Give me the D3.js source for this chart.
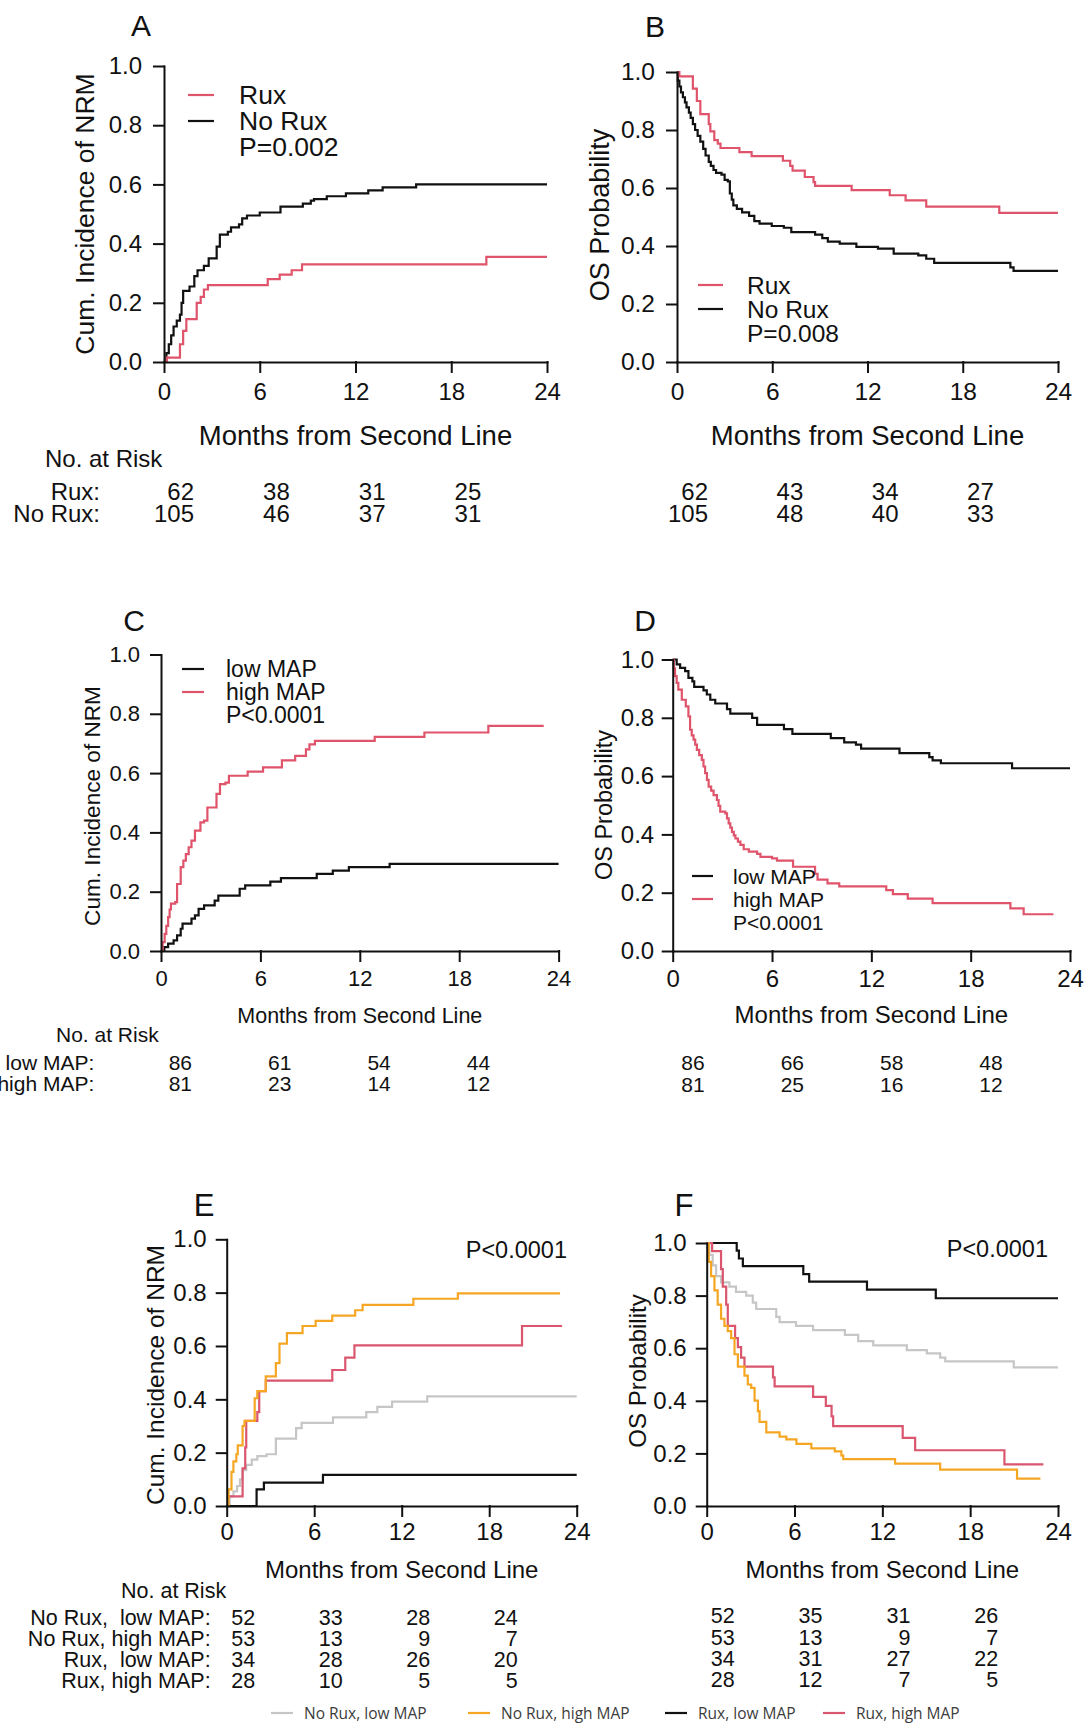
<!DOCTYPE html>
<html><head><meta charset="utf-8">
<script src="https://cdn.jsdelivr.net/npm/d3@7"></script>
<style>
html,body{margin:0;padding:0;background:#fff;}
svg text{font-family:"Liberation Sans",Arial,Helvetica,sans-serif;fill:#111;}
.pre{white-space:pre;}
</style></head><body>
<svg id="c" width="1087" height="1726"></svg>
<script>
// ---------------- DATA ----------------
const monthTicks = [0, 6, 12, 18, 24];
const probTicks = [0, 0.2, 0.4, 0.6, 0.8, 1.0];
const riskTimes = [0, 6, 12, 18];

// Panel A: cumulative incidence of NRM (step points: [month, value after step])
const A_rux = [[0,0],[0.18,0.015],[1.0,0.06],[1.2,0.105],[1.4,0.145],[2.05,0.2],[2.3,0.22],[2.5,0.245],[2.75,0.26],[6.5,0.28],[7.25,0.295],[8.0,0.31],[8.65,0.33],[20.2,0.355],[24,0.355]];
const A_norux = [[0,0],[0.15,0.03],[0.3,0.06],[0.45,0.09],[0.6,0.12],[0.8,0.14],[1.0,0.16],[1.1,0.2],[1.2,0.24],[1.6,0.255],[1.9,0.29],[2.1,0.31],[2.5,0.325],[2.8,0.35],[3.3,0.39],[3.5,0.43],[4.0,0.44],[4.2,0.455],[4.7,0.465],[4.9,0.485],[5.2,0.495],[6.0,0.505],[7.3,0.525],[8.7,0.535],[9.2,0.545],[9.4,0.55],[10.2,0.56],[11.4,0.57],[12.8,0.58],[13.7,0.59],[15.8,0.6],[24,0.6]];
const A_riskRux = [62, 38, 31, 25];
const A_riskNoRux = [105, 46, 37, 31];

// Panel B: OS
const B_rux = [[0,1],[0.15,0.985],[1.0,0.943],[1.25,0.9],[1.47,0.855],[2.0,0.82],[2.1,0.795],[2.35,0.765],[2.57,0.753],[2.74,0.738],[3.93,0.724],[4.7,0.71],[6.67,0.694],[7.13,0.676],[7.28,0.66],[8.05,0.638],[8.6,0.62],[8.7,0.607],[11.0,0.593],[13.4,0.575],[14.4,0.557],[15.7,0.536],[20.3,0.514],[24,0.514]];
const B_norux = [[0,1],[0.05,0.97],[0.15,0.95],[0.25,0.93],[0.37,0.913],[0.5,0.895],[0.6,0.878],[0.75,0.86],[0.86,0.842],[1.0,0.82],[1.14,0.8],[1.3,0.78],[1.47,0.76],[1.65,0.735],[1.8,0.712],[2.0,0.69],[2.13,0.676],[2.3,0.662],[2.46,0.652],[2.8,0.646],[3.0,0.628],[3.2,0.623],[3.33,0.581],[3.45,0.56],[3.55,0.54],[3.77,0.528],[4.1,0.516],[4.54,0.504],[4.87,0.486],[5.2,0.477],[5.97,0.469],[6.73,0.463],[7.2,0.448],[8.7,0.439],[9.15,0.427],[9.5,0.415],[10.25,0.408],[11.3,0.397],[12.66,0.391],[13.65,0.374],[15.2,0.368],[15.7,0.356],[16.2,0.342],[21.0,0.326],[21.2,0.314],[24,0.314]];
const B_riskRux = [62, 43, 34, 27];
const B_riskNoRux = [105, 48, 40, 33];

// Panel C: NRM by MAP
const C_low = [[0,0],[0.2,0.013],[0.43,0.025],[0.76,0.036],[0.97,0.053],[1.19,0.075],[1.3,0.092],[1.84,0.109],[2.05,0.12],[2.27,0.142],[2.6,0.154],[3.24,0.17],[3.46,0.187],[4.75,0.21],[5.08,0.221],[6.6,0.234],[7.24,0.246],[9.4,0.26],[10.37,0.271],[11.34,0.283],[13.8,0.294],[24,0.294]];
const C_high = [[0,0],[0.1,0.03],[0.22,0.058],[0.32,0.085],[0.43,0.114],[0.52,0.14],[0.6,0.16],[0.86,0.165],[0.97,0.226],[1.19,0.283],[1.35,0.305],[1.5,0.327],[1.67,0.35],[1.84,0.372],[2.05,0.406],[2.38,0.434],[2.6,0.44],[2.8,0.484],[3.35,0.53],[3.56,0.563],[3.89,0.568],[4.1,0.591],[5.23,0.605],[6.16,0.619],[7.3,0.643],[8.1,0.658],[8.75,0.68],[8.96,0.697],[9.29,0.709],[12.9,0.722],[15.9,0.737],[19.76,0.759],[23.1,0.759]];
const C_riskLow = [86, 61, 54, 44];
const C_riskHigh = [81, 23, 14, 12];

// Panel D: OS by MAP
const D_low = [[0,1],[0.24,0.983],[0.45,0.971],[0.75,0.96],[0.95,0.937],[1.19,0.925],[1.3,0.906],[1.86,0.894],[2.06,0.88],[2.27,0.862],[2.57,0.849],[3.28,0.83],[3.48,0.814],[4.8,0.8],[5.1,0.776],[6.72,0.761],[7.23,0.745],[9.55,0.73],[10.36,0.716],[11.07,0.708],[11.38,0.694],[13.7,0.679],[15.5,0.665],[15.7,0.654],[16.2,0.644],[20.5,0.627],[24,0.627]];
const D_high = [[0,1],[0.07,0.97],[0.14,0.943],[0.24,0.92],[0.34,0.897],[0.55,0.862],[0.79,0.839],[0.95,0.805],[1.05,0.759],[1.15,0.74],[1.26,0.725],[1.36,0.708],[1.46,0.69],[1.6,0.672],[1.76,0.656],[1.86,0.633],[1.96,0.61],[2.07,0.587],[2.17,0.564],[2.32,0.55],[2.47,0.535],[2.67,0.518],[2.77,0.498],[2.87,0.478],[3.18,0.472],[3.28,0.455],[3.38,0.438],[3.48,0.423],[3.58,0.409],[3.69,0.397],[3.79,0.386],[3.94,0.375],[4.09,0.364],[4.29,0.349],[4.6,0.341],[5.1,0.333],[5.3,0.323],[6.0,0.318],[6.3,0.31],[7.27,0.289],[8.6,0.265],[8.75,0.245],[9.35,0.232],[10.06,0.222],[12.9,0.209],[13.3,0.195],[14.2,0.18],[15.7,0.164],[20.4,0.146],[21.2,0.126],[23.0,0.126]];
const D_riskLow = [86, 66, 58, 48];
const D_riskHigh = [81, 25, 16, 12];

// Panel E: NRM, four groups
const E_noruxLow = [[0,0],[0.2,0.036],[0.46,0.055],[0.71,0.075],[0.91,0.1],[1.09,0.134],[1.34,0.154],[1.72,0.174],[2.1,0.187],[2.73,0.194],[3.37,0.253],[4.76,0.292],[5.14,0.312],[7.29,0.332],[9.57,0.352],[10.33,0.372],[11.34,0.391],[13.75,0.411],[24,0.411]];
const E_noruxHigh = [[0,0],[0.13,0.062],[0.33,0.128],[0.46,0.167],[0.66,0.194],[0.76,0.227],[1.09,0.3],[1.22,0.319],[1.92,0.404],[2.1,0.431],[2.68,0.486],[3.37,0.536],[3.62,0.609],[4.13,0.648],[5.2,0.675],[6.1,0.694],[7.24,0.714],[8.81,0.734],[9.32,0.754],[12.8,0.777],[15.85,0.797],[22.86,0.797]];
const E_ruxLow = [[0,0],[2.05,0.062],[2.55,0.088],[6.6,0.117],[24,0.117]];
const E_ruxHigh = [[0,0],[0.1,0.036],[1.09,0.141],[1.27,0.22],[1.34,0.319],[2.1,0.352],[2.23,0.431],[2.68,0.47],[7.24,0.51],[8.13,0.556],[8.76,0.602],[20.25,0.675],[23,0.675]];
const E_risk = [[52,33,28,24],[53,13,9,7],[34,28,26,20],[28,10,5,5]];

// Panel F: OS, four groups
const F_noruxLow = [[0,1],[0.18,0.955],[0.41,0.915],[0.64,0.874],[0.98,0.85],[1.55,0.834],[2.0,0.814],[2.7,0.8],[3.15,0.773],[3.38,0.749],[4.75,0.719],[4.98,0.699],[6.1,0.685],[7.27,0.669],[9.44,0.651],[10.35,0.627],[11.38,0.611],[13.67,0.593],[15.04,0.58],[15.95,0.564],[16.3,0.55],[20.98,0.527],[24,0.527]];
const F_noruxHigh = [[0,1],[0.14,0.928],[0.3,0.874],[0.53,0.82],[0.75,0.766],[0.98,0.712],[1.21,0.685],[1.44,0.665],[1.67,0.638],[1.9,0.577],[2.13,0.53],[2.58,0.496],[2.81,0.462],[3.04,0.449],[3.27,0.401],[3.5,0.361],[3.61,0.32],[4.07,0.28],[4.98,0.264],[5.44,0.253],[6.13,0.236],[7.15,0.219],[8.75,0.208],[9.2,0.192],[9.33,0.178],[12.87,0.161],[15.95,0.138],[21.2,0.104],[22.8,0.104]];
const F_ruxLow = [[0,1],[2.05,0.971],[2.2,0.941],[2.47,0.912],[6.6,0.882],[7.0,0.853],[10.95,0.823],[15.65,0.79],[24,0.79]];
const F_ruxHigh = [[0,1],[0.37,0.969],[0.98,0.901],[1.1,0.834],[1.33,0.766],[1.44,0.685],[1.94,0.638],[2.13,0.604],[2.35,0.564],[2.58,0.53],[4.53,0.489],[4.64,0.455],[7.27,0.415],[8.14,0.381],[8.53,0.341],[8.64,0.304],[13.39,0.259],[14.24,0.212],[20.34,0.158],[23.0,0.158]];
const F_risk = [[52,35,31,26],[53,13,9,7],[34,31,27,22],[28,12,7,5]];

const twoGroupAB = ["Rux", "No Rux"];
const twoGroupCD = ["low MAP", "high MAP"];
const fourGroups = ["No Rux,  low MAP", "No Rux, high MAP", "Rux,  low MAP", "Rux, high MAP"];
const fourLegend = ["No Rux, low MAP", "No Rux, high MAP", "Rux, low MAP", "Rux, high MAP"];

// ---------------- STYLE ----------------
const RED = "#DF536B", BLACK = "#111111", ORANGE = "#F5A623", GREY = "#C6C6C6", PINK = "#D9566E";

const svg = d3.select("#c");
svg.append("rect").attr("width",1087).attr("height",1726).attr("fill","#fff");

function panel(c) {
  const g = svg.append("g");
  const x = d3.scaleLinear().domain([0,24]).range([c.x0, c.x1]);
  const y = d3.scaleLinear().domain([0,1]).range([c.yb, c.yt]);
  const line = d3.line().x(d => x(d[0])).y(d => y(d[1])).curve(d3.curveStepAfter);

  // curves
  c.series.forEach(s => {
    g.append("path").attr("d", line(s.data)).attr("fill","none")
      .attr("stroke", s.color).attr("stroke-width", 2.2).attr("stroke-linejoin","miter");
  });

  // axes
  const ax = g.append("g").attr("transform", `translate(0,${c.yb})`)
    .call(d3.axisBottom(x).tickValues(monthTicks).tickSize(10).tickSizeOuter(0).tickPadding(c.xpad).tickFormat(d3.format("d")));
  const ay = g.append("g").attr("transform", `translate(${c.x0},0)`)
    .call(d3.axisLeft(y).tickValues(probTicks).tickSize(10).tickSizeOuter(0).tickPadding(c.ypad).tickFormat(d3.format(".1f")));
  [ax, ay].forEach(a => {
    a.attr("font-family", null).attr("font-size", null);
    a.selectAll("path,line").attr("stroke", BLACK).attr("stroke-width", 2).attr("stroke-linecap","square");
    a.selectAll("text").attr("fill", BLACK).style("font-size", c.tickFs + "px");
  });

  // panel letter
  g.append("text").attr("x", c.tx).attr("y", c.ty).attr("text-anchor","middle")
    .style("font-size", c.titleFs + "px").text(c.title);
  // y title
  g.append("text").attr("transform", `translate(${c.ytx},${c.yty}) rotate(-90)`)
    .attr("text-anchor","middle").attr("dominant-baseline","central")
    .style("font-size", c.ytFs + "px").text(c.ytitle);
  // x title
  g.append("text").attr("x", x(12)).attr("y", c.xly).attr("text-anchor","middle")
    .style("font-size", c.xlFs + "px").text("Months from Second Line");

  // legend
  if (c.legend) {
    const L = c.legend;
    L.items.forEach((it, i) => {
      const by = L.y0 + i * L.dy;
      g.append("line").attr("x1", L.lx0).attr("x2", L.lx1)
        .attr("y1", by - L.lineOff).attr("y2", by - L.lineOff)
        .attr("stroke", it.color).attr("stroke-width", 2.2);
      g.append("text").attr("x", L.tx).attr("y", by).style("font-size", L.fs + "px").text(it.label);
    });
    g.append("text").attr("x", L.tx).attr("y", L.y0 + L.items.length * L.dy)
      .style("font-size", L.fs + "px").text(c.pval);
  }
  if (c.pTop) {
    g.append("text").attr("x", c.pTop.x).attr("y", c.pTop.y).attr("text-anchor","end")
      .style("font-size", c.pTop.fs + "px").text(c.pval);
  }

  // numbers at risk
  const R = c.risk;
  if (R.header) {
    g.append("text").attr("x", R.header.x).attr("y", R.header.y)
      .style("font-size", R.header.fs + "px").text("No. at Risk");
  }
  R.rows.forEach((vals, i) => {
    const by = R.y0 + i * R.dy;
    if (R.labels) {
      g.append("text").attr("class","pre").attr("x", R.lx).attr("y", by).attr("text-anchor","end")
        .style("font-size", R.fs + "px").text(R.labels[i] + ":");
    }
    g.selectAll(null).data(vals).enter().append("text")
      .attr("x", (v, j) => x(riskTimes[j]) + R.off).attr("y", by).attr("text-anchor","end")
      .style("font-size", R.fs + "px").text(v => v);
  });
}

// Panel A
panel({title:"A", tx:141, ty:36, titleFs:30, x0:164, x1:547, yt:66, yb:362, xpad:11, ypad:12, tickFs:24,
  ytitle:"Cum. Incidence of NRM", ytx:85, yty:214, ytFs:26.5, xly:445, xlFs:27.5, pval:"P=0.002",
  series:[{data:A_norux, color:BLACK},{data:A_rux, color:RED}],
  legend:{items:[{label:twoGroupAB[0], color:RED},{label:twoGroupAB[1], color:BLACK}], lx0:188, lx1:214, tx:239, y0:104, dy:26, lineOff:9, fs:26.5},
  risk:{header:{x:45, y:467, fs:24}, labels:twoGroupAB, lx:100, rows:[A_riskRux, A_riskNoRux], y0:500, dy:21.7, off:30, fs:24}
});
// Panel B
panel({title:"B", tx:655, ty:37, titleFs:30, x0:677, x1:1058, yt:72, yb:362, xpad:11, ypad:12, tickFs:24.5,
  ytitle:"OS Probability", ytx:600, yty:215, ytFs:27, xly:445, xlFs:27.5, pval:"P=0.008",
  series:[{data:B_norux, color:BLACK},{data:B_rux, color:RED}],
  legend:{items:[{label:twoGroupAB[0], color:RED},{label:twoGroupAB[1], color:BLACK}], lx0:698, lx1:723, tx:747, y0:294, dy:24, lineOff:9, fs:24.5},
  risk:{rows:[B_riskRux, B_riskNoRux], y0:500, dy:21.7, off:31, fs:24}
});
// Panel C
panel({title:"C", tx:134, ty:631, titleFs:30, x0:161, x1:558.6, yt:654.5, yb:951, xpad:9, ypad:11, tickFs:22,
  ytitle:"Cum. Incidence of NRM", ytx:92, yty:806, ytFs:22.6, xly:1023, xlFs:21.5, pval:"P<0.0001",
  series:[{data:C_low, color:BLACK},{data:C_high, color:RED}],
  legend:{items:[{label:twoGroupCD[0], color:BLACK},{label:twoGroupCD[1], color:RED}], lx0:182, lx1:204, tx:226, y0:677, dy:23, lineOff:8, fs:23},
  risk:{header:{x:56, y:1042, fs:21}, labels:twoGroupCD, lx:94.3, rows:[C_riskLow, C_riskHigh], y0:1070, dy:21, off:31, fs:21}
});
// Panel D
panel({title:"D", tx:645, ty:631, titleFs:30, x0:672.7, x1:1070, yt:659.5, yb:951, xpad:8.5, ypad:8.5, tickFs:24,
  ytitle:"OS Probability", ytx:604, yty:805, ytFs:23.5, xly:1023, xlFs:24, pval:"P<0.0001",
  series:[{data:D_low, color:BLACK},{data:D_high, color:RED}],
  legend:{items:[{label:twoGroupCD[0], color:BLACK},{label:twoGroupCD[1], color:RED}], lx0:692, lx1:713, tx:733, y0:884, dy:23, lineOff:8, fs:21},
  risk:{rows:[D_riskLow, D_riskHigh], y0:1070, dy:21.5, off:32, fs:21}
});
// Panel E
panel({title:"E", tx:204, ty:1216, titleFs:31, x0:226.7, x1:576.7, yt:1239.3, yb:1506, xpad:7, ypad:10, tickFs:24,
  ytitle:"Cum. Incidence of NRM", ytx:155, yty:1375, ytFs:24.5, xly:1578, xlFs:24, pval:"P<0.0001",
  series:[{data:E_noruxLow, color:GREY},{data:E_ruxLow, color:BLACK},{data:E_ruxHigh, color:PINK},{data:E_noruxHigh, color:ORANGE}],
  pTop:{x:567, y:1258, fs:23.5},
  risk:{header:{x:121, y:1598, fs:21.5}, labels:fourGroups, lx:210.7, rows:E_risk, y0:1625, dy:21.1, off:28.5, fs:21.5}
});
// Panel F
panel({title:"F", tx:684, ty:1216, titleFs:31, x0:706.7, x1:1058, yt:1243, yb:1506, xpad:7, ypad:10, tickFs:24,
  ytitle:"OS Probability", ytx:637, yty:1371, ytFs:24, xly:1578, xlFs:24, pval:"P<0.0001",
  series:[{data:F_noruxLow, color:GREY},{data:F_ruxLow, color:BLACK},{data:F_ruxHigh, color:PINK},{data:F_noruxHigh, color:ORANGE}],
  pTop:{x:1048, y:1257, fs:23.5},
  risk:{rows:F_risk, y0:1623.3, dy:21.3, off:28, fs:21.5}
});

// bottom legend for E/F
const legColors = [GREY, ORANGE, BLACK, PINK];
const legX = [271, 468, 665, 823];
const bl = svg.append("g");
fourLegend.forEach((lab, i) => {
  bl.append("line").attr("x1", legX[i]).attr("x2", legX[i] + 22).attr("y1", 1713).attr("y2", 1713)
    .attr("stroke", legColors[i]).attr("stroke-width", 2.2);
  bl.append("text").attr("x", legX[i] + 33).attr("y", 1719)
    .style("font-family", "'Open Sans','Noto Sans',sans-serif").style("font-size", "15.5px").style("fill", "#3c3c3c")
    .text(lab);
});
</script>
</body></html>
